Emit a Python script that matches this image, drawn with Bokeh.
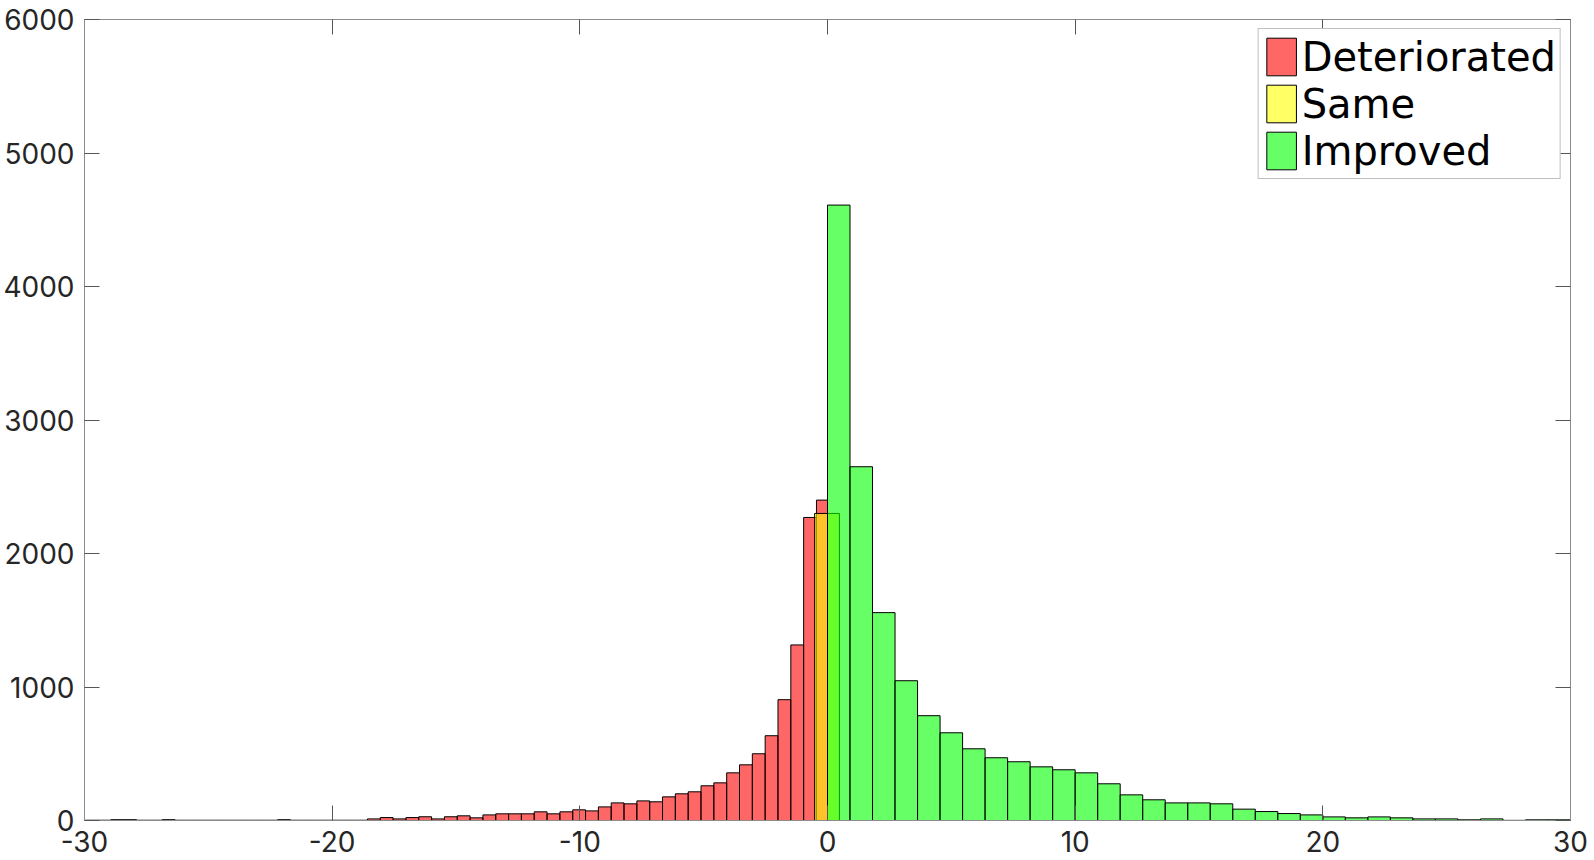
import numpy as np
from bokeh.plotting import figure
from bokeh.models import LinearAxis, Range1d, FixedTicker
from bokeh.embed import file_html
from bokeh.resources import INLINE

# ---------------- data ----------------
# Deteriorated: 58 bins of width ~0.518, the last one ending at 0
red_counts = [2, 2, 6, 6, 2, 2, 6, 2, 2, 2, 2, 2, 2, 2, 2, 6, 2, 2, 2, 2, 2, 2,
              12, 22, 12, 22, 28, 12, 28, 35, 20, 42, 50, 50, 50, 65, 50, 65,
              80, 72, 102, 132, 125, 147, 140, 177, 200, 215, 260, 282, 357,
              417, 500, 635, 905, 1315, 2270, 2400]
red_bin_width = 0.518
red_last_edge = -0.445

# Improved: 33 equal bins between 0 and 30
green_counts = [4610, 2650, 1557, 1047, 785, 657, 537, 470, 440, 402, 380,
                357, 275, 192, 155, 132, 132, 125, 85, 67, 52, 42, 27, 20,
                27, 20, 12, 12, 5, 12, 1, 5, 5]
green_range = (0.0, 30.0)

# Same: a single bar around 0
same_count = [2300]
same_edges = (-0.52, 0.48)

x_ticks = [-30, -20, -10, 0, 10, 20, 30]
x_tick_labels = ["-30", "-20", "-10", "0", "10", "20", "30"]
y_ticks = [0, 1000, 2000, 3000, 4000, 5000, 6000]
y_tick_labels = ["0", "1000", "2000", "3000", "4000", "5000", "6000"]
labels = ["Deteriorated", "Same", "Improved"]

# ---------------- bins ----------------
n_red = len(red_counts)
red_left = np.array([red_last_edge - red_bin_width * (n_red - 1 - k) for k in range(n_red)])
red_right = np.minimum(red_left + red_bin_width, 0.0)
g_edges = np.linspace(green_range[0], green_range[1], len(green_counts) + 1)

FONT = "Inter"
LEG_FONT = "DejaVu Sans"
AX_LINE = "#8c8c8c"
TICK = "#555555"
LABEL = "#262626"

p = figure(width=1594, height=860,
           x_range=Range1d(-30, 30), y_range=Range1d(0, 6000),
           output_backend="svg", toolbar_location=None,
           min_border_left=82, min_border_right=24, min_border_top=19,
           min_border_bottom=40)
p.xgrid.visible = False
p.ygrid.visible = False
p.outline_line_color = AX_LINE
p.background_fill_color = "white"
p.border_fill_color = "white"

p.quad(left=red_left, right=red_right, bottom=0, top=red_counts,
       fill_color="#ff0000", fill_alpha=0.6, line_color="black", line_width=1,
       legend_label=labels[0])
p.quad(left=[same_edges[0]], right=[same_edges[1]], bottom=0, top=same_count,
       fill_color="#ffff00", fill_alpha=0.6, line_color="black", line_width=1,
       legend_label=labels[1])
p.quad(left=g_edges[:-1], right=g_edges[1:], bottom=0, top=green_counts,
       fill_color="#00ff00", fill_alpha=0.6, line_color="black", line_width=1,
       legend_label=labels[2])


def style(ax, ticks, tick_labels=None, standoff=8):
    ax.ticker = FixedTicker(ticks=ticks)
    ax.axis_line_color = AX_LINE
    ax.major_tick_line_color = TICK
    ax.major_tick_in = 15
    ax.major_tick_out = 0
    ax.minor_tick_line_color = None
    ax.major_label_text_font = FONT
    if tick_labels is not None:
        ax.major_label_overrides = {t: s for t, s in zip(ticks, tick_labels)}
        ax.major_label_text_font_size = "28px"
        ax.major_label_text_color = LABEL
        ax.major_label_standoff = standoff
    else:
        ax.major_label_text_font_size = "1px"
        ax.major_label_text_color = None
        ax.major_label_text_alpha = 0
        ax.major_label_standoff = 0


style(p.xaxis[0], x_ticks, x_tick_labels, standoff=10)
style(p.yaxis[0], y_ticks, y_tick_labels, standoff=10)

top_ax = LinearAxis()
style(top_ax, x_ticks)
p.add_layout(top_ax, "above")
right_ax = LinearAxis()
style(right_ax, y_ticks)
p.add_layout(right_ax, "right")

lg = p.legend[0]
lg.location = "top_right"
lg.margin = 9
lg.padding = 4
lg.spacing = 0
lg.glyph_width = 37
lg.glyph_height = 47
lg.label_standoff = 2
lg.label_text_font = LEG_FONT
lg.label_text_font_size = "40px"
lg.label_text_color = "black"
lg.border_line_color = "#808080"
lg.border_line_width = 1
lg.background_fill_alpha = 1.0

open("out.html", "w").write(file_html(p, INLINE))
